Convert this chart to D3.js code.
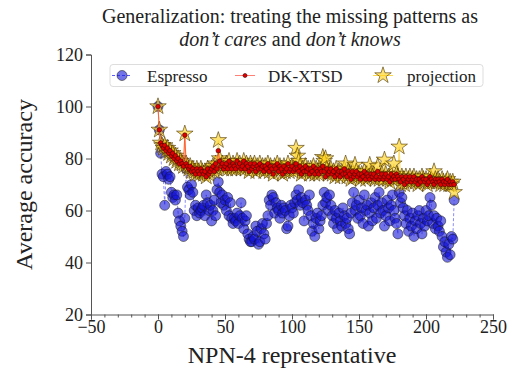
<!DOCTYPE html>
<html>
<head>
<meta charset="utf-8">
<script src="https://cdn.jsdelivr.net/npm/d3@7"></script>
<style>
  body { margin: 0; background: #fff; }
  text { font-family: "Liberation Serif", "DejaVu Serif", serif; fill: #222; }
</style>
</head>
<body>
<script>
// data (index 0..221)
var espresso = [
  100, 91, 82, 74, 73, 62, 75, 74, 72, 73,
  67, 65, 66, 64, 66, 59, 56, 54, 52, 50,
  57, 76, 69, 68, 66, 70, 67, 60, 62, 58,
  61, 59, 60, 61, 62, 58, 66, 63, 60, 62,
  56, 60, 64, 58, 68, 71, 67, 63, 66, 62,
  64, 60, 65, 58, 63, 57, 55, 57, 56, 59,
  55, 58, 63, 57, 53, 56, 58, 51, 49, 48,
  48, 50, 49, 54, 52, 47, 48, 53, 55, 51,
  49, 55, 58, 64, 62, 66, 65, 59, 63, 61,
  60, 57, 62, 59, 61, 60, 53, 54, 58, 62,
  61, 59, 63, 66, 64, 68, 62, 65, 63, 56,
  64, 62, 60, 66, 58, 52, 55, 50, 57, 59,
  53, 56, 58, 62, 67, 63, 65, 60, 66, 62,
  58, 55, 60, 57, 53, 59, 56, 54, 61, 58,
  55, 57, 53, 51, 59, 63, 67, 60, 62, 57,
  64, 58, 61, 55, 66, 60, 62, 54, 59, 63,
  56, 61, 65, 57, 62, 67, 59, 63, 60, 54,
  58, 64, 61, 56, 62, 66, 60, 57, 55, 51,
  67, 63, 65, 61, 58, 55, 60, 52, 57, 54,
  59, 50, 56, 53, 58, 60, 55, 51, 57, 54,
  60, 56, 58, 65, 62, 55, 58, 53, 57, 54,
  52, 56, 50, 46, 48, 44, 42, 47, 43, 50,
  49, 64
];
var dkxtsd = [
  100, 91, 86, 85, 84, 85, 83, 84, 82, 83,
  81, 82, 80, 81, 79, 80, 78, 79, 78, 77,
  89, 78, 77, 76, 77, 75, 76, 75, 74, 76,
  75, 74, 76, 75, 74, 75, 73, 76, 74, 75,
  76, 77, 75, 78, 76, 83, 79, 77, 78, 76,
  77, 78, 76, 79, 77, 76, 78, 77, 76, 79,
  77, 78, 76, 77, 79, 76, 78, 77, 75, 78,
  76, 77, 78, 75, 77, 76, 78, 76, 77, 75,
  77, 76, 78, 75, 77, 76, 74, 77, 76, 78,
  75, 77, 76, 74, 77, 75, 76, 78, 75, 76,
  77, 75, 76, 78, 76, 75, 77, 74, 76, 75,
  77, 75, 76, 74, 76, 75, 77, 74, 76, 75,
  74, 76, 75, 77, 75, 73, 76, 74, 75, 76,
  74, 75, 73, 76, 74, 75, 73, 75, 74, 76,
  74, 73, 75, 74, 72, 75, 73, 74, 75, 73,
  74, 72, 74, 73, 75, 72, 74, 73, 72, 74,
  73, 74, 72, 73, 75, 72, 73, 74, 72, 73,
  74, 72, 73, 71, 74, 72, 73, 72, 74, 73,
  72, 71, 73, 72, 70, 73, 71, 72, 73, 71,
  72, 73, 71, 72, 70, 72, 71, 73, 72, 71,
  72, 70, 71, 73, 72, 71, 70, 72, 71, 72,
  71, 70, 72, 71, 70, 71, 72, 70, 71, 70,
  71, 70
];
var projection = [
  100, 91, 86, 85, 84, 85, 83, 84, 82, 83,
  81, 82, 80, 81, 79, 80, 78, 79, 78, 77,
  89.5, 78, 77, 76, 77, 75, 76, 75, 74, 76,
  75, 74, 76, 75, 74, 75, 73, 76, 74, 75,
  76, 77, 75, 78, 76, 87, 80, 77, 78, 76,
  77, 78, 76, 79, 77, 76, 78, 77, 76, 79,
  77, 78, 76, 77, 79, 76, 78, 77, 75, 78,
  76, 77, 78, 75, 77, 76, 78, 76, 77, 75,
  77, 76, 78, 75, 77, 76, 74, 77, 76, 78,
  75, 77, 76, 74, 77, 75, 76, 78, 75, 76,
  77, 75, 76, 84, 81, 79, 77, 74, 76, 75,
  77, 75, 76, 74, 76, 75, 77, 74, 76, 75,
  74, 76, 75, 80.5, 79, 80, 76, 74, 75, 76,
  74, 75, 73, 76, 74, 75, 73, 75, 74, 76,
  78, 73, 75, 74, 72, 75, 73, 77.5, 75, 73,
  74, 72, 74, 73, 75, 72, 74, 73, 77.5, 74,
  73, 74, 72, 73, 77, 72, 73, 74, 72, 79.5,
  74, 72, 73, 71, 74, 72, 78, 72, 74, 73,
  84.5, 70, 73, 72, 70, 73, 71, 72, 73, 71,
  72, 73, 71, 72, 70, 72, 71, 73, 72, 71,
  72, 70, 71, 73, 72, 71, 75, 72, 71, 72,
  71, 70, 72, 71, 70, 71, 72, 70, 71, 70,
  71, 67
];
var seriesNames = ["Espresso", "DK-XTSD", "projection"];
var xTicks = [-50, 0, 50, 100, 150, 200, 250];
var yTicks = [20, 40, 60, 80, 100, 120];

var width = 512, height = 371;
var margin = { left: 91, right: 19, top: 54.5, bottom: 56.5 };

var svg = d3.select("body").append("svg")
    .attr("width", width)
    .attr("height", height);

var x = d3.scaleLinear().domain([-50, 250]).range([margin.left, width - margin.right]);
var y = d3.scaleLinear().domain([20, 120]).range([height - margin.bottom, margin.top]);

// title
svg.append("text")
    .attr("x", 290).attr("y", 23)
    .attr("text-anchor", "middle")
    .style("font-size", "20px")
    .text("Generalization: treating the missing patterns as");
var t2 = svg.append("text")
    .attr("x", 290).attr("y", 46)
    .attr("text-anchor", "middle")
    .style("font-size", "20px");
t2.append("tspan").style("font-style", "italic").text("don\u2019t cares");
t2.append("tspan").text(" and ");
t2.append("tspan").style("font-style", "italic").text("don\u2019t knows");

// axes
var fmt = function (d) { return d < 0 ? "\u2212" + Math.abs(d) : d; };
svg.append("g")
    .attr("transform", "translate(0," + y(20) + ")")
    .call(d3.axisBottom(x).tickValues(xTicks).tickFormat(fmt).tickSize(5).tickPadding(1));
svg.append("g")
    .attr("transform", "translate(0," + y(20) + ")")
    .call(d3.axisBottom(x).tickValues(d3.range(-50, 251, 10)).tickFormat("").tickSize(3))
    .select(".domain").remove();
svg.append("g")
    .attr("transform", "translate(" + x(-50) + ",0)")
    .call(d3.axisLeft(y).tickValues(yTicks).tickSize(5).tickPadding(3));

svg.selectAll(".domain, .tick line").attr("stroke", "#555").attr("stroke-width", 1);
svg.selectAll(".tick text").style("font-family", "Liberation Serif, serif").style("font-size", "18px").attr("fill", "#222");

svg.append("text")
    .attr("x", 292).attr("y", 363)
    .attr("text-anchor", "middle")
    .style("font-size", "24px")
    .text("NPN-4 representative");
svg.append("text")
    .attr("transform", "translate(32," + y(70) + ") rotate(-90)")
    .attr("text-anchor", "middle")
    .style("font-size", "24px")
    .text("Average accuracy");

var line = function (vals) {
    return d3.line().x(function (d, i) { return x(i); }).y(function (d) { return y(d); })(vals);
};

// Espresso
svg.append("path")
    .attr("d", line(espresso))
    .attr("fill", "none")
    .attr("stroke", "#5a5aff")
    .attr("stroke-opacity", 0.7)
    .attr("stroke-width", 1)
    .attr("stroke-dasharray", "3,2");
svg.append("g").selectAll("circle")
    .data(espresso)
    .enter().append("circle")
    .attr("cx", function (d, i) { return x(i); })
    .attr("cy", function (d) { return y(d); })
    .attr("r", 5)
    .attr("fill", "#1515d8")
    .attr("fill-opacity", 0.6)
    .attr("stroke", "#111")
    .attr("stroke-opacity", 0.5)
    .attr("stroke-width", 1);

// projection
var star = d3.symbol().type(d3.symbolStar).size(85);
svg.append("path")
    .attr("d", line(projection))
    .attr("fill", "none")
    .attr("stroke", "#ffd84a")
    .attr("stroke-opacity", 0.8)
    .attr("stroke-width", 1.2);
svg.append("g").selectAll("path")
    .data(projection)
    .enter().append("path")
    .attr("d", star)
    .attr("transform", function (d, i) { return "translate(" + x(i) + "," + y(d) + ")"; })
    .attr("fill", "#ffd21f")
    .attr("fill-opacity", 0.65)
    .attr("stroke", "#4a3300")
    .attr("stroke-opacity", 0.75)
    .attr("stroke-width", 0.8);

// DK-XTSD
svg.append("path")
    .attr("d", line(dkxtsd))
    .attr("fill", "none")
    .attr("stroke", "#ff4a3a")
    .attr("stroke-opacity", 0.85)
    .attr("stroke-width", 1);
svg.append("g").selectAll("circle")
    .data(dkxtsd)
    .enter().append("circle")
    .attr("cx", function (d, i) { return x(i); })
    .attr("cy", function (d) { return y(d); })
    .attr("r", 2.3)
    .attr("fill", "#e00000")
    .attr("stroke", "#3a0000")
    .attr("stroke-width", 0.6);

// legend
var lg = svg.append("g");
lg.append("rect")
    .attr("x", 110).attr("y", 64.5)
    .attr("width", 373).attr("height", 22)
    .attr("rx", 3)
    .attr("fill", "#fff")
    .attr("fill-opacity", 0.8)
    .attr("stroke", "#ddd");
var lx = [122, 245, 383];
var tx = [147, 268, 407];
var ly = 75.5;
// Espresso entry
lg.append("line").attr("x1", lx[0] - 10).attr("x2", lx[0] + 10).attr("y1", ly).attr("y2", ly)
    .attr("stroke", "#5a5aff").attr("stroke-dasharray", "3,2");
lg.append("circle").attr("cx", lx[0]).attr("cy", ly).attr("r", 5)
    .attr("fill", "#1515d8").attr("fill-opacity", 0.6).attr("stroke", "#111").attr("stroke-opacity", 0.5);
// DK-XTSD entry
lg.append("line").attr("x1", lx[1] - 10).attr("x2", lx[1] + 10).attr("y1", ly).attr("y2", ly)
    .attr("stroke", "#ff4a3a").attr("stroke-opacity", 0.7);
lg.append("circle").attr("cx", lx[1]).attr("cy", ly).attr("r", 2)
    .attr("fill", "#e00000").attr("stroke", "#3a0000").attr("stroke-width", 0.6);
// projection entry
lg.append("line").attr("x1", lx[2] - 10).attr("x2", lx[2] + 10).attr("y1", ly).attr("y2", ly)
    .attr("stroke", "#ffd84a");
lg.append("path").attr("d", star).attr("transform", "translate(" + lx[2] + "," + ly + ")")
    .attr("fill", "#ffd21f").attr("fill-opacity", 0.65).attr("stroke", "#4a3300").attr("stroke-opacity", 0.75).attr("stroke-width", 0.8);

lg.selectAll("text.lab")
    .data(seriesNames)
    .enter().append("text")
    .attr("class", "lab")
    .attr("x", function (d, i) { return tx[i]; })
    .attr("y", ly + 6)
    .style("font-size", "17px")
    .text(function (d) { return d; });
</script>
</body>
</html>
